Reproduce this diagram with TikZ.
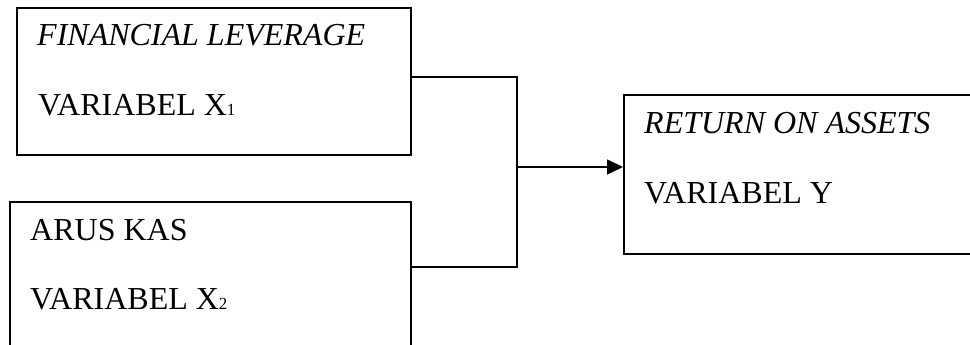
\documentclass[tikz,border=0pt]{standalone}
\usepackage{fontspec}
\setmainfont{Liberation Serif}
\usetikzlibrary{arrows.meta}
\newcommand{\subsc}[1]{{\fontsize{17}{17}\selectfont #1}}
\begin{document}
\begin{tikzpicture}[x=1pt,y=-1pt,
  boxline/.style={draw=black,line width=1.6pt},
  lbl/.style={anchor=base west,inner sep=0pt,font=\fontsize{32}{34}\selectfont},
  conn/.style={draw=black,line width=1.6pt}]
\useasboundingbox (0,0) rectangle (970,345);
\clip (0,0) rectangle (970,345);
% boxes
\node[boxline,anchor=north west,minimum width=394pt,minimum height=147pt,inner sep=0pt] (b1) at (16,7) {};
\node[boxline,anchor=north west,minimum width=401pt,minimum height=170pt,inner sep=0pt] (b2) at (9,201) {};
\node[boxline,anchor=north west,minimum width=370pt,minimum height=159pt,inner sep=0pt] (b3) at (623,94) {};
% texts
\node[lbl] (t1) at (37,46) {\textit{FINANCIAL LEVERAGE}};
\node[lbl] (t2) at (38,116) {VARIABEL X\subsc{1}};
\node[lbl] (t3) at (30,240) {ARUS KAS};
\node[lbl] (t4) at (30,309) {VARIABEL X\subsc{2}};
\node[lbl] (t5) at (644,133) {\textit{RETURN ON ASSETS}};
\node[lbl] (t6) at (644,203) {VARIABEL Y};
% connectors
\coordinate (j1) at (517,77);
\coordinate (j2) at (517,267);
\coordinate (jm) at (517,167);
\draw[conn] (b1.east |- j1) -- (j1) -- (j2) -- (b2.east |- j2);
\draw[conn,-{Triangle[length=16pt,width=15pt]}] (jm) -- (b3.west |- jm);
\end{tikzpicture}
\end{document}
